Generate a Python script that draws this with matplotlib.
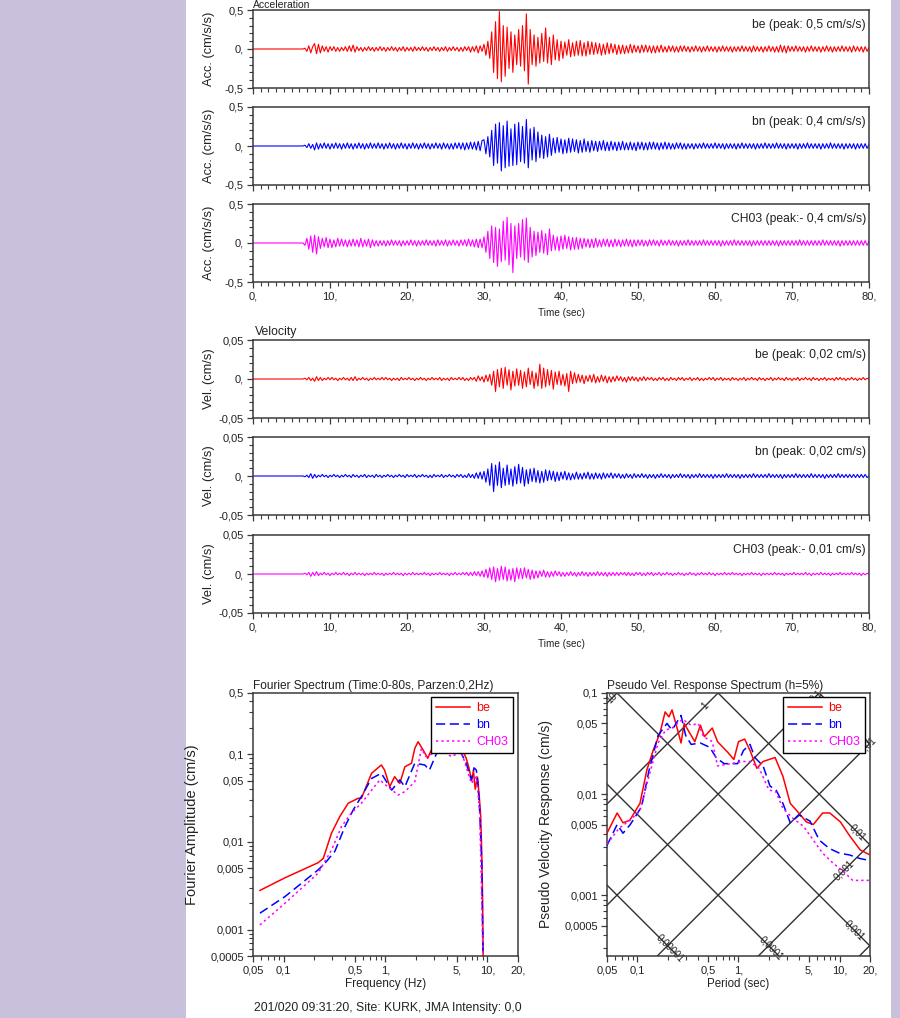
import numpy as np
import matplotlib
matplotlib.use("Agg")
import matplotlib.pyplot as plt
from matplotlib.patches import Rectangle
from matplotlib.ticker import (FixedLocator, FixedFormatter, MultipleLocator,
                               LogLocator, NullFormatter)

plt.rcParams['font.family'] = ['Liberation Sans', 'DejaVu Sans']

# ======================= DATA =======================
ONSET = 6.5        # s, first read-off sample (traces are flat before)
DT = 0.25          # s, spacing of read-off samples
ACC_UNIT = 0.01    # cm/s/s per integer unit
VEL_UNIT = 0.001   # cm/s per integer unit

ACC_BE = """0 1
-3 4 -5 3 7 -6 6 -5 4 -3 3 -4 3 -2 3 -3 2 -3 2 -2
3 -3 4 -3 5 -4 3 -2 2 -3 2 -2 3 -2 2 -3 2 -2 3 -2
2 -3 2 -2 3 -2 2 -3 2 -2 3 -3 2 -2 2 -3 3 -2 2 -2
3 -2 2 -3 2 -2 3 -2 2 -3 2 -2 3 -3 2 -2 3 -2 2 -3
2 -3 3 -2 3 -4 3 -3 4 -5 4 -3 6 -8 10 -12 22 -30 35 -38
48 -42 30 -35 28 -25 22 -30 18 -20 25 -22 30 -28 45 -45 25 -20 18 -22
15 -18 20 -16 27 -18 15 -20 18 -14 12 -15 10 -12 9 -8 12 -10 8 -9
10 -8 11 -9 8 -9 10 -7 9 -7 8 -6 7 -8 6 -7 8 -6 7 -5
6 -7 5 -6 5 -6 4 -5 6 -5 5 -4 4 -5 5 -4 5 -4 4 -5
4 -5 4 -4 5 -4 3 -4 4 -3 4 -4 3 -4 4 -3 4 -3 3 -4
3 -3 4 -3 3 -4 3 -3 4 -3 3 -3 3 -4 3 -3 4 -3 3 -3
3 -4 3 -3 3 -3 4 -3 3 -3 3 -4 4 -3 3 -3 3 -4 3 -3
4 -3 3 -4 3 -4 5 -4 4 -5 4 -3 3 -3 4 -3 3 -3 3 -4
3 -3 4 -3 3 -3 3 -4 3 -3 4 -3 3 -4 3 -3 3 -3 4 -3
3 -3 3 -4 4 -3 3 -3 3 -4 3 -3 2"""

ACC_BN = """0 1
-2 3 -3 2 -5 4 -4 3 -3 4 -3 3 -4 3 -3 4 -3 3 -4 3
-3 4 -3 3 -4 3 -3 4 -3 3 -4 3 -3 4 -3 3 -3 4 -3 3
-4 3 -3 4 -3 3 -4 3 -3 4 -3 3 -4 3 -3 4 -3 3 -4 3
-3 4 -3 3 -4 3 -3 4 -3 3 -4 4 -3 3 -4 3 -4 4 -3 4
-4 4 -5 4 -4 5 -4 5 -5 6 -6 7 8 -10 12 -14 20 -25 28 -22
30 -32 26 -28 32 -26 22 -25 28 -24 30 -20 25 -22 34 -28 22 -18 24 -20
18 -15 14 -16 12 -14 15 -12 10 -9 11 -8 9 -10 8 -9 10 -8 9 -7
8 -9 7 -8 9 -7 6 -8 7 -6 6 -7 6 -5 7 -6 5 -6 6 -5
5 -6 5 -5 6 -5 4 -5 5 -5 4 -6 5 -4 5 -5 4 -5 5 -4
5 -4 4 -5 4 -4 5 -4 4 -4 3 -4 4 -3 4 -4 3 -4 3 -3
3 -4 3 -3 3 -3 4 -3 3 -3 3 -3 4 -3 3 -3 3 -4 3 -3
3 -3 3 -4 3 -3 4 -3 3 -3 3 -3 3 -4 3 -3 3 -3 4 -3
3 -3 3 -3 4 -3 3 -3 3 -4 3 -3 3 -3 3 -4 3 -3 3 -3
4 -3 3 -3 3 -3 3 -4 3 -3 3 -3 4 -3 3 -3 3 -3 3 -4
3 -3 3 -3 3 -4 3 -3 3 -3 3 -3 2"""

ACC_CH03 = """0 -3
6 -8 9 -12 10 -14 8 -7 6 -5 7 -6 5 -6 4 -5 6 -4 5 -4
4 -5 4 -4 5 -4 4 -5 6 -5 4 -4 5 -6 4 -4 3 -4 3 -3
3 -4 3 -3 4 -3 3 -3 3 -4 3 -3 3 -3 4 -3 3 -4 3 -3
3 -3 4 -3 3 -3 3 -4 4 -3 3 -3 4 -4 3 -3 4 -3 3 -4
4 -3 4 -4 5 -4 4 -5 5 -6 5 -6 8 -12 15 -20 22 -25 20 -30
18 -24 28 -22 33 -28 25 -38 22 -20 25 -18 30 -22 32 -25 20 -18 15 -16
14 -12 16 -13 12 -15 18 -10 10 -9 8 -10 9 -8 10 -7 8 -9 7 -8
7 -8 6 -7 6 -5 5 -6 5 -6 6 -5 4 -5 5 -4 5 -5 4 -5
5 -4 4 -5 4 -4 5 -4 4 -5 4 -4 4 -3 4 -4 3 -4 4 -3
4 -3 3 -4 4 -3 3 -3 4 -3 3 -3 3 -4 3 -3 3 -3 4 -3
3 -3 3 -3 3 -3 4 -3 3 -3 3 -3 3 -3 3 -4 3 -3 3 -3
3 -3 4 -3 3 -3 3 -3 3 -3 3 -4 3 -3 3 -3 3 -3 3 -3
3 -3 3 -3 3 -4 3 -3 3 -3 3 -3 3 -3 3 -3 4 -3 3 -3
3 -3 3 -3 3 -3 3 -3 4 -3 3 -3 3 -3 3 -3 3 -4 3 -3
3 -3 3 -3 3 -3 3 -3 3 -3 3 -3 2"""

VEL_BE = """0 1
-1 2 -2 1 -3 3 -2 2 -2 1 -1 2 -1 2 -1 1 -2 1 -1 2
-1 1 -2 2 -2 3 -2 1 -1 2 -1 1 -2 1 -1 2 -1 1 -1 2
-1 2 -1 1 -2 1 -1 1 -2 2 -1 1 -1 2 -1 1 -2 1 -1 2
-1 1 -2 1 -1 2 -1 1 -1 2 -2 1 -1 1 -2 2 -1 1 -1 2
-1 2 -2 1 -2 2 -1 2 -3 4 -2 3 -4 5 -3 6 -8 10 -16 12
-10 14 -12 15 -8 12 -14 10 -9 13 -8 11 -12 9 -10 14 -7 10 -12 8
-9 19 -12 14 -10 12 -8 11 -13 9 -7 10 -8 6 -9 7 -16 10 -6 8
-5 6 -4 5 -6 4 -3 5 -4 6 -5 3 -4 5 -3 4 -5 3 -4 3
-3 4 -2 3 -3 2 -4 3 -2 3 -2 2 -3 2 -2 3 -2 2 -1 2
-2 1 -2 2 -1 2 -2 1 -2 2 -1 1 -2 2 -1 2 -2 1 -1 2
-2 1 -1 2 -2 1 -2 1 -1 2 -1 2 -2 1 -1 2 -2 1 -1 1
-2 2 -1 1 -2 1 -1 2 -2 1 -1 2 -1 1 -2 2 -1 1 -2 1
-1 2 -2 1 -1 2 -1 1 -2 2 -1 1 -2 1 -1 2 -2 1 -1 2
-1 1 -2 2 -1 1 -2 1 -1 2 -2 1 -1 1 -2 2 -1 2 -1 1
-2 1 -1 2 -1 1 -2 1 -1 2 -1 1 0"""

VEL_BN = """0 -1
1 -2 3 -3 2 -2 1 -1 2 -1 1 -2 1 -1 2 -1 1 -2 1 -1
2 -1 1 -2 2 -1 1 -2 1 -1 2 -2 1 -1 1 -2 2 -1 1 -2
1 -1 2 -1 1 -2 1 -1 2 -1 1 -2 2 -1 1 -1 2 -2 1 -1
2 -1 1 -2 1 -2 2 -1 1 -1 2 -2 1 -1 2 -1 1 -2 2 -1
2 -2 1 -2 3 -2 2 -3 4 -3 5 -4 6 -8 9 -12 16 -20 14 -12
18 -15 10 -12 14 -11 9 -13 12 -10 15 -9 11 -13 8 -10 9 -7 10 -8
7 -9 6 -8 8 -6 7 -5 6 -7 5 -6 5 -4 6 -5 4 -5 3 -4
5 -4 3 -4 4 -3 5 -4 3 -4 4 -3 3 -4 4 -3 3 -2 4 -3
3 -2 3 -3 2 -3 3 -2 2 -3 3 -2 2 -2 3 -2 2 -3 2 -2
2 -3 2 -2 3 -2 2 -2 2 -3 2 -2 2 -2 3 -2 2 -2 2 -3
2 -2 2 -2 3 -2 2 -2 2 -2 2 -3 2 -2 2 -2 2 -2 3 -2
2 -2 2 -2 2 -3 2 -2 2 -2 2 -2 3 -2 2 -2 2 -2 2 -2
3 -2 2 -2 2 -2 2 -3 2 -2 2 -2 2 -2 3 -2 2 -2 2 -2
2 -2 3 -2 2 -2 2 -2 2 -3 2 -2 2 -2 2 -2 3 -2 2 -2
2 -2 2 -2 2 -2 2 -2 2 -2 2 -2 0"""

VEL_CH03 = """0 1
-1 2 -3 2 -2 3 -2 1 -1 2 -1 1 -2 1 -1 2 -1 1 -1 2
-1 1 -2 1 -1 2 -1 1 -1 1 -2 1 -1 1 -1 2 -1 1 -1 1
-2 1 -1 1 -1 2 -1 1 -1 1 -2 1 -1 1 -1 2 -1 1 -1 1
-1 2 -1 1 -2 1 -1 1 -1 2 -1 1 -1 1 -2 1 -1 2 -1 1
-1 2 -1 2 -2 2 -2 3 -2 3 -3 4 -4 6 -5 8 -7 9 -10 7
-8 10 -7 9 -9 6 -8 7 -10 8 -6 7 -6 8 -5 6 -7 5 -6 4
-5 4 -3 5 -4 3 -4 3 -3 4 -2 3 -3 2 -3 2 -2 3 -2 2
-3 2 -2 3 -2 2 -3 2 -2 2 -2 3 -2 2 -2 2 -3 2 -2 2
-2 2 -2 2 -1 2 -2 2 -2 1 -2 2 -1 2 -2 1 -2 2 -1 2
-2 1 -1 2 -2 1 -1 2 -1 1 -2 1 -1 2 -1 1 -2 1 -1 2
-1 1 -2 1 -1 2 -1 1 -1 2 -1 1 -2 1 -1 1 -1 2 -1 1
-1 2 -1 1 -1 1 -2 1 -1 1 -1 2 -1 1 -1 1 -2 1 -1 1
-1 1 -1 2 -1 1 -1 1 -2 1 -1 1 -1 2 -1 1 -1 1 -1 2
-1 1 -2 1 -1 1 -1 2 -1 1 -1 1 -2 1 -1 1 -1 2 -1 1
-1 1 -1 2 -1 1 -1 1 -2 1 -1 1 0"""

TIME_TICKS = [0, 10, 20, 30, 40, 50, 60, 70, 80]
TIME_LABELS = ['0,', '10,', '20,', '30,', '40,', '50,', '60,', '70,', '80,']
ACC_TICKS = [-0.5, 0.0, 0.5]
ACC_LABELS = ['-0,5', '0,', '0,5']
VEL_TICKS = [-0.05, 0.0, 0.05]
VEL_LABELS = ['-0,05', '0,', '0,05']
ACC_NOTES = ['be (peak: 0,5 cm/s/s)', 'bn (peak: 0,4 cm/s/s)', 'CH03 (peak:- 0,4 cm/s/s)']
VEL_NOTES = ['be (peak: 0,02 cm/s)', 'bn (peak: 0,02 cm/s)', 'CH03 (peak:- 0,01 cm/s)']
COMPONENTS = ['be', 'bn', 'CH03']

# Fourier spectrum
FREQ_BE = [0.0585, 0.103, 0.218, 0.245, 0.295, 0.356, 0.43, 0.54, 0.58, 0.73, 0.91, 0.98,
           1.1, 1.23, 1.38, 1.55, 1.8, 1.94, 2.09, 2.34, 2.6, 2.93, 3.54, 4.43, 5.56, 6.2,
           6.6, 7.0, 7.3, 7.6, 8.0, 8.3, 8.6, 8.8, 9.0, 9.1]
AMP_BE = [0.0028, 0.0039, 0.0058, 0.0065, 0.0126, 0.0195, 0.0276, 0.0315, 0.0315, 0.0607,
          0.0755, 0.066, 0.0427, 0.0556, 0.0465, 0.072, 0.079, 0.117, 0.139, 0.112, 0.09,
          0.125, 0.12, 0.13, 0.12, 0.09, 0.07, 0.05, 0.065, 0.04, 0.055, 0.035, 0.02, 0.008,
          0.002, 0.0005]
FREQ_BN = [0.0585, 0.103, 0.218, 0.254, 0.318, 0.40, 0.48, 0.58, 0.73, 0.91, 1.15, 1.38,
           1.55, 1.94, 2.43, 2.7, 3.28, 4.43, 5.56, 6.2, 6.97, 7.4, 7.8, 8.1, 8.4, 8.8, 9.06]
AMP_BN = [0.00154, 0.00238, 0.0048, 0.0057, 0.0078, 0.015, 0.023, 0.033, 0.053, 0.0607,
          0.039, 0.051, 0.0427, 0.079, 0.0755, 0.066, 0.112, 0.112, 0.102, 0.079, 0.051,
          0.07, 0.066, 0.045, 0.023, 0.006, 0.0005]
FREQ_CH = [0.0585, 0.103, 0.218, 0.295, 0.37, 0.46, 0.58, 0.73, 0.88, 1.05, 1.33, 1.55,
           1.94, 2.25, 2.5, 2.93, 3.54, 4.43, 5.56, 6.2, 6.97, 7.8, 8.4, 9.06]
AMP_CH = [0.00113, 0.002, 0.0044, 0.0081, 0.015, 0.0212, 0.0276, 0.039, 0.051, 0.0427,
          0.0343, 0.0375, 0.0487, 0.116, 0.094, 0.102, 0.112, 0.094, 0.107, 0.072, 0.0465,
          0.0556, 0.023, 0.0005]
F_TICKS = [0.05, 0.1, 0.5, 1, 5, 10, 20]
F_LABELS = ['0,05', '0,1', '0,5', '1,', '5,', '10,', '20,']
FA_TICKS = [0.0005, 0.001, 0.005, 0.01, 0.05, 0.1, 0.5]
FA_LABELS = ['0,0005', '0,001', '0,005', '0,01', '0,05', '0,1', '0,5']

# Pseudo velocity response spectrum
PER_BE = [0.05, 0.063, 0.072, 0.084, 0.106, 0.124, 0.143, 0.167, 0.188, 0.205, 0.22, 0.25,
          0.27, 0.29, 0.33, 0.37, 0.42, 0.46, 0.55, 0.62, 0.78, 0.9, 1.0, 1.15, 1.3, 1.52,
          1.75, 2.3, 2.75, 3.25, 4.0, 4.7, 5.5, 6.8, 8.0, 10.2, 12.5, 16, 20]
PSV_BE = [0.0041, 0.0065, 0.0052, 0.0055, 0.0081, 0.0173, 0.027, 0.040, 0.065, 0.058, 0.068,
          0.043, 0.032, 0.05, 0.04, 0.033, 0.048, 0.037, 0.045, 0.033, 0.026, 0.022, 0.033,
          0.035, 0.027, 0.018, 0.021, 0.023, 0.015, 0.0081, 0.0064, 0.0053, 0.005, 0.0065,
          0.0065, 0.0053, 0.0039, 0.0028, 0.0025]
PER_BN = [0.05, 0.063, 0.072, 0.085, 0.11, 0.13, 0.16, 0.196, 0.22, 0.27, 0.30, 0.34, 0.42,
          0.52, 0.60, 0.72, 0.98, 1.12, 1.3, 1.45, 1.75, 2.05, 2.35, 2.75, 3.25, 4.0, 5.1,
          6.3, 7.9, 10, 12.5, 16, 20]
PSV_BN = [0.0031, 0.005, 0.0041, 0.005, 0.0075, 0.017, 0.038, 0.05, 0.043, 0.06, 0.038,
          0.031, 0.032, 0.029, 0.023, 0.02, 0.02, 0.027, 0.031, 0.023, 0.019, 0.012, 0.011,
          0.0081, 0.0052, 0.0062, 0.0054, 0.0035, 0.0029, 0.0026, 0.0025, 0.0023, 0.0022]
PER_CH = [0.05, 0.066, 0.084, 0.106, 0.13, 0.16, 0.19, 0.22, 0.28, 0.34, 0.40, 0.45, 0.55,
          0.62, 0.84, 1.12, 1.3, 1.6, 2.0, 2.35, 2.75, 3.5, 4.4, 5.5, 6.8, 8.5, 11, 13.5, 20]
PSV_CH = [0.0032, 0.0046, 0.0055, 0.0068, 0.015, 0.032, 0.043, 0.045, 0.055, 0.048, 0.05,
          0.037, 0.033, 0.019, 0.02, 0.021, 0.021, 0.018, 0.011, 0.0105, 0.0072, 0.0057,
          0.0048, 0.0035, 0.0026, 0.0021, 0.0017, 0.0014, 0.0014]
P_TICKS = [0.05, 0.1, 0.5, 1, 5, 10, 20]
P_LABELS = ['0,05', '0,1', '0,5', '1,', '5,', '10,', '20,']
PV_TICKS = [0.0005, 0.001, 0.005, 0.01, 0.05, 0.1]
PV_LABELS = ['0,0005', '0,001', '0,005', '0,01', '0,05', '0,1']
SD_LINES = [1e-5, 1e-4, 1e-3, 1e-2, 1e-1]          # cm, constant displacement
PSA_LINES = [1e-4, 1e-3, 1e-2, 1e-1, 1.0, 10.0]    # cm/s/s, constant acceleration
SD_LABELS = {1e-2: '0,01', 1e-3: '0,001', 1e-4: '0,0001', 1e-5: '0,00001'}
PSA_LABELS = {1e-3: '0,001', 1e-2: '0,01', 1e-1: '0,1', 1.0: '1', 10.0: '10'}

FOOTER = '201/020 09:31:20, Site: KURK, JMA Intensity: 0,0'

# ======================= STYLE / LAYOUT =======================
W, H = 900, 1018
LAV = '#c9c0db'
DARK = '#3a3a3a'
TXT = '#222222'
COLORS = ['#ff0000', '#0000ff', '#ff00ff']

fig = plt.figure(figsize=(W / 100, H / 100), dpi=100)
fig.patch.set_facecolor('white')
fig.add_artist(Rectangle((0, 0), 186 / W, 1, transform=fig.transFigure,
                         facecolor=LAV, edgecolor='none', zorder=0))
fig.add_artist(Rectangle((891 / W, 0), 9 / W, 1, transform=fig.transFigure,
                         facecolor=LAV, edgecolor='none', zorder=0))


def rect(l, t, r, b):
    return [l / W, 1 - b / H, (r - l) / W, (b - t) / H]


def style_box(ax):
    for s in ax.spines.values():
        s.set_color(DARK)
        s.set_linewidth(1.1)
    ax.tick_params(which='both', direction='out', colors=DARK, top=False, right=False,
                   labelsize=8, labelcolor=TXT)
    ax.tick_params(which='major', length=4.5, width=0.9, pad=2)
    ax.tick_params(which='minor', length=3, width=0.8)


def series_panel(top, data, unit, color, ticks, labels, minor, note, ylabel, show_x):
    ax = fig.add_axes(rect(253, top, 869, top + 78))
    vals = np.array(data.split(), float) * unit
    y = np.concatenate([[0.0], vals])
    t = np.concatenate([[0.0], ONSET + DT * np.arange(len(vals))])
    ax.plot(t, y, color=color, lw=0.8)
    ax.set_xlim(0, 80)
    ax.set_ylim(ticks[0], ticks[-1])
    style_box(ax)
    ax.xaxis.set_major_locator(FixedLocator(TIME_TICKS))
    ax.xaxis.set_minor_locator(MultipleLocator(1))
    ax.yaxis.set_major_locator(FixedLocator(ticks))
    ax.yaxis.set_major_formatter(FixedFormatter(labels))
    ax.yaxis.set_minor_locator(MultipleLocator(minor))
    if show_x:
        ax.xaxis.set_major_formatter(FixedFormatter(TIME_LABELS))
        ax.set_xlabel('Time (sec)', fontsize=7.2, color=TXT)
        ax.xaxis.set_label_coords(0.5, -0.33)
    else:
        ax.xaxis.set_major_formatter(NullFormatter())
    ax.text(0.995, 0.81, note, transform=ax.transAxes, ha='right', va='center',
            fontsize=8.7, color=TXT)
    ax.set_ylabel(ylabel, fontsize=9.3, color=TXT)
    ax.yaxis.set_label_coords(-0.062, 0.5)
    return ax


acc_data = [ACC_BE, ACC_BN, ACC_CH03]
vel_data = [VEL_BE, VEL_BN, VEL_CH03]
acc_tops = [10, 107, 204]
vel_tops = [340, 437, 535]
acc_axes = []
for i in range(3):
    acc_axes.append(series_panel(acc_tops[i], acc_data[i], ACC_UNIT, COLORS[i], ACC_TICKS,
                                 ACC_LABELS, 0.1, ACC_NOTES[i], 'Acc. (cm/s/s)', i == 2))
vel_axes = []
for i in range(3):
    vel_axes.append(series_panel(vel_tops[i], vel_data[i], VEL_UNIT, COLORS[i], VEL_TICKS,
                                 VEL_LABELS, 0.01, VEL_NOTES[i], 'Vel. (cm/s)', i == 2))
acc_axes[0].text(0.0, 1.0, 'Acceleration', transform=acc_axes[0].transAxes,
                 ha='left', va='bottom', fontsize=7.5, color=TXT)
vel_axes[0].text(0.003, 1.03, 'Velocity', transform=vel_axes[0].transAxes,
                 ha='left', va='bottom', fontsize=8.8, color=TXT)


def log_panel(box, xlim, ylim, xt, xl, yt, yl):
    ax = fig.add_axes(rect(*box))
    ax.set_xscale('log')
    ax.set_yscale('log')
    ax.set_xlim(*xlim)
    ax.set_ylim(*ylim)
    style_box(ax)
    ax.xaxis.set_major_locator(FixedLocator(xt))
    ax.xaxis.set_major_formatter(FixedFormatter(xl))
    ax.xaxis.set_minor_locator(LogLocator(base=10, subs=np.arange(2, 10), numticks=30))
    ax.xaxis.set_minor_formatter(NullFormatter())
    ax.yaxis.set_major_locator(FixedLocator(yt))
    ax.yaxis.set_major_formatter(FixedFormatter(yl))
    ax.yaxis.set_minor_locator(LogLocator(base=10, subs=np.arange(2, 10), numticks=30))
    ax.yaxis.set_minor_formatter(NullFormatter())
    return ax


STYLES = [dict(ls='-'), dict(ls=(0, (6, 3))), dict(ls=(0, (1.5, 2)))]


def legend(ax, anchor):
    lg = ax.legend(loc='upper right', bbox_to_anchor=anchor, borderaxespad=0,
                   fontsize=9, labelcolor='linecolor', frameon=True, fancybox=False,
                   framealpha=1, edgecolor='black', handlelength=2.7, handletextpad=0.5,
                   labelspacing=0.4, borderpad=0.4)
    lg.get_frame().set_linewidth(1.0)
    lg.set_zorder(10)


# ---- Fourier spectrum ----
axF = log_panel((253, 693, 518, 956), (0.05, 20), (0.0005, 0.5), F_TICKS, F_LABELS,
                FA_TICKS, FA_LABELS)
for f, a, c, st, name in zip([FREQ_BE, FREQ_BN, FREQ_CH], [AMP_BE, AMP_BN, AMP_CH],
                             COLORS, STYLES, COMPONENTS):
    axF.plot(f, a, color=c, lw=1.1, label=name, **st)
legend(axF, (0.981, 0.985))
axF.set_title('Fourier Spectrum (Time:0-80s, Parzen:0,2Hz)', loc='left', fontsize=8.6,
              color=TXT, pad=3)
axF.set_xlabel('Frequency (Hz)', fontsize=8.5, color=TXT, labelpad=2)
axF.set_ylabel('Fourier Amplitude (cm/s)', fontsize=10.5, color=TXT)
axF.yaxis.set_label_coords(-0.205, 0.5)

# ---- Pseudo velocity response spectrum ----
axP = log_panel((607, 693, 870, 956), (0.05, 20), (0.00025, 0.1), P_TICKS, P_LABELS,
                PV_TICKS, PV_LABELS)
Tg = np.array([0.05, 20.0])
for sd in SD_LINES:
    axP.plot(Tg, 2 * np.pi * sd / Tg, color='#303030', lw=1.0, zorder=1)
for pa in PSA_LINES:
    axP.plot(Tg, pa * Tg / (2 * np.pi), color='#303030', lw=1.0, zorder=1)
sd_pos = {1e-2: 15.0, 1e-3: 14.0, 1e-4: 2.1, 1e-5: 0.21}
for sd, txt in SD_LABELS.items():
    T = sd_pos[sd]
    axP.text(T, 2 * np.pi * sd / T, txt, rotation=-45, ha='center', va='center',
             fontsize=7, color=TXT, rotation_mode='anchor', zorder=2)
psa_pos = {1e-3: 11.0, 1e-2: 19.0, 1e-1: 5.9, 1.0: 0.47, 10.0: 0.056}
for pa, txt in PSA_LABELS.items():
    T = psa_pos[pa]
    axP.text(T, pa * T / (2 * np.pi), txt, rotation=45, ha='center', va='center',
             fontsize=7, color=TXT, rotation_mode='anchor', zorder=2)
for p, v, c, st, name in zip([PER_BE, PER_BN, PER_CH], [PSV_BE, PSV_BN, PSV_CH],
                             COLORS, STYLES, COMPONENTS):
    axP.plot(p, v, color=c, lw=1.1, label=name, zorder=3, **st)
legend(axP, (0.981, 0.985))
axP.set_title('Pseudo Vel. Response Spectrum (h=5%)', loc='left', fontsize=8.6,
              color=TXT, pad=3)
axP.set_xlabel('Period (sec)', fontsize=8.3, color=TXT, labelpad=2)
axP.set_ylabel('Pseudo Velocity Response (cm/s)', fontsize=10, color=TXT)
axP.yaxis.set_label_coords(-0.205, 0.5)

fig.text(388 / W, 1 - 1008 / H, FOOTER, ha='center', va='center', fontsize=8.8,
         color=TXT)

fig.savefig('out.png', dpi=100, facecolor='white')
